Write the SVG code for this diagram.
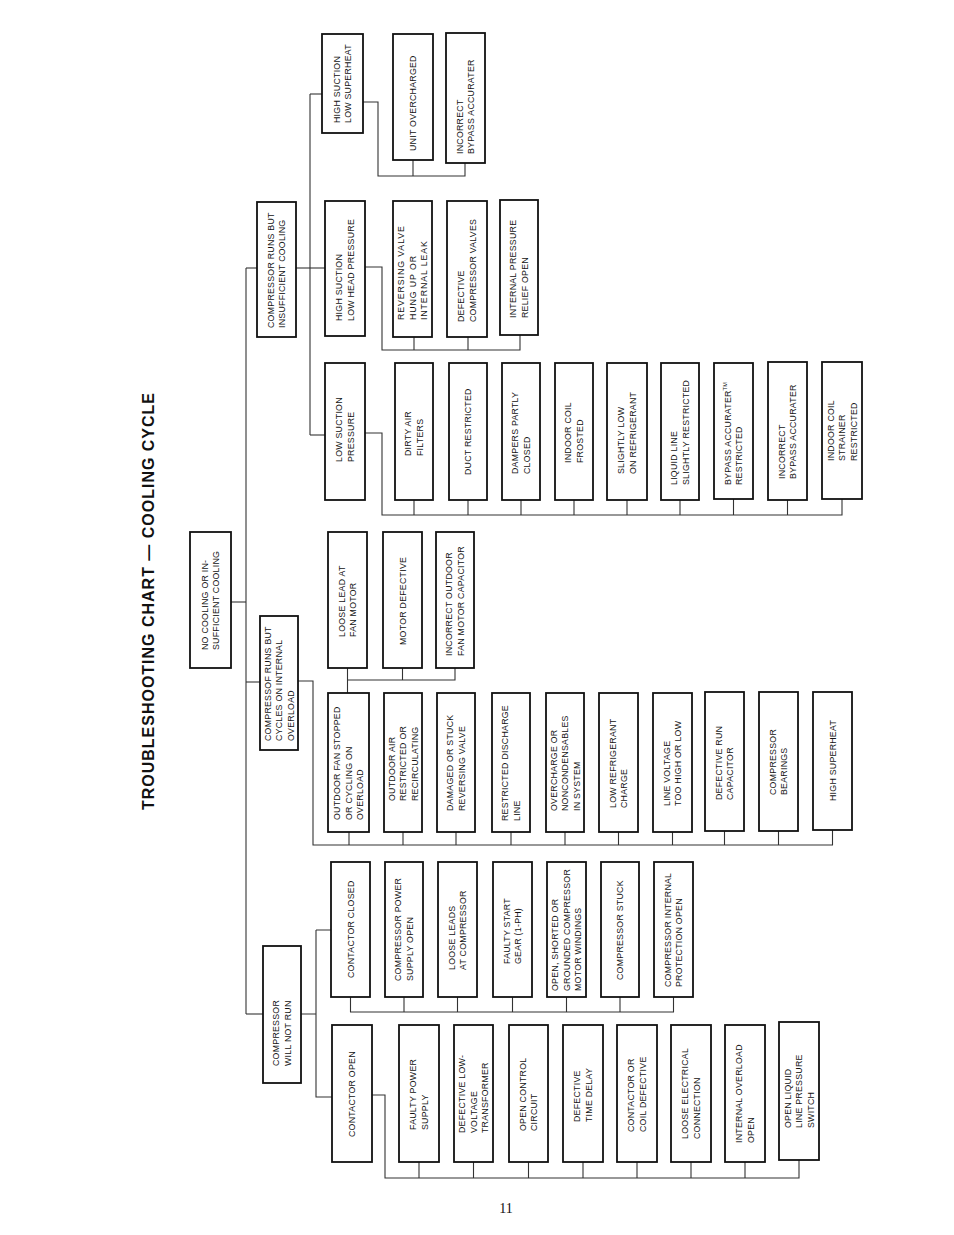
<svg xmlns="http://www.w3.org/2000/svg" width="954" height="1235" viewBox="0 0 954 1235">
<style>
.b{fill:#fff;stroke:#111;stroke-width:1.8}
.t{font-family:"Liberation Sans",Arial,sans-serif;font-size:8.8px;letter-spacing:0.25px;fill:#111}
.c{fill:none;stroke:#333;stroke-width:1.1}
.title{font-family:"Liberation Sans",Arial,sans-serif;font-size:16px;font-weight:bold;fill:#111}
.pg{font-family:"Liberation Serif","Times New Roman",serif;font-size:14px;fill:#111}
</style>
<rect x="0" y="0" width="954" height="1235" fill="#fff"/>
<text class="title" transform="translate(153.5,810) rotate(-90)" textLength="417" lengthAdjust="spacing">TROUBLESHOOTING CHART — COOLING CYCLE</text>
<text class="pg" x="506" y="1213" text-anchor="middle">11</text>

<g id="connectors">
<path class="c" d="M246,268 V1014"/>
<path class="c" d="M246,268 H257"/>
<path class="c" d="M231,602 H246"/>
<path class="c" d="M246,682 H260"/>
<path class="c" d="M246,1014 H263"/>
<path class="c" d="M296,268 H325"/>
<path class="c" d="M310,94 V435"/>
<path class="c" d="M310,94 H322"/>
<path class="c" d="M310,435 H325"/>
<path class="c" d="M363,102 H378 V176 H465 V163 M413,160 V176"/>
<path class="c" d="M365,267 H382 V350 H520 V335 M414,337 V350 M468,337 V350"/>
<path class="c" d="M365,433 H382 V515 H842 V499 M414,500 V515 M468,500 V515 M521,500 V515 M574,500 V515 M627,500 V515 M680,500 V515 M733.5,499 V515 M787.5,500 V515"/>
<path class="c" d="M298,681 H313 V845 H832.5 V830 M349,832 V845 M403,832 V845 M456,832 V845 M511,832 V845 M565,832 V845 M618.5,832 V845 M672.5,832 V845 M724.5,831 V845 M778.5,831 V845"/>
<path class="c" d="M347.5,668 V693 M347.5,680 H455 V668 M402.5,668 V680"/>
<path class="c" d="M301,1014 H316 M316,930 V1097 H332 M316,930 H331"/>
<path class="c" d="M350.5,997 V1012 H673.5 V997 M404,997 V1012 M457.5,997 V1012 M512.5,997 V1012 M566.5,997 V1012 M620,997 V1012"/>
<path class="c" d="M372,1095 H385 V1178 H799 V1160 M419,1162 V1178 M473.5,1162 V1178 M528.5,1162 V1178 M583,1162 V1178 M637,1162 V1178 M691,1162 V1178 M745,1162 V1178"/>
</g>

<g id="n-no-cooling"><rect class="b" x="190" y="532" width="41" height="136"/>
<text class="t" transform="translate(210.5,650) rotate(-90)"><tspan x="0" y="-2.7">NO COOLING OR IN-</tspan><tspan x="0" y="8.9">SUFFICIENT COOLING</tspan></text></g>

<g id="n-runs-insufficient"><rect class="b" x="257" y="202" width="39" height="135"/>
<text class="t" transform="translate(276.5,328) rotate(-90)"><tspan x="0" y="-2.7">COMPRESSOR RUNS BUT</tspan><tspan x="0" y="8.9">INSUFFICIENT COOLING</tspan></text></g>

<g id="n-cycles"><rect class="b" x="260" y="616" width="38" height="134"/>
<text class="t" transform="translate(279,741) rotate(-90)"><tspan x="0" y="-8.5">COMPRESSOF RUNS BUT</tspan><tspan x="0" y="3.1">CYCLES ON INTERNAL</tspan><tspan x="0" y="14.7">OVERLOAD</tspan></text></g>

<g id="n-will-not-run"><rect class="b" x="263" y="946" width="38" height="137"/>
<text class="t" transform="translate(282,1066) rotate(-90)"><tspan x="0" y="-2.7">COMPRESSOR</tspan><tspan x="0" y="8.9">WILL NOT RUN</tspan></text></g>

<g id="n-hs-low-superheat"><rect class="b" x="322" y="34" width="41" height="99"/>
<text class="t" transform="translate(342.5,123) rotate(-90)"><tspan x="0" y="-2.7">HIGH SUCTION</tspan><tspan x="0" y="8.9">LOW SUPERHEAT</tspan></text></g>

<g id="n-unit-overcharged"><rect class="b" x="393" y="34" width="40" height="126"/>
<text class="t" transform="translate(413,151) rotate(-90)"><tspan x="0" y="3.1">UNIT OVERCHARGED</tspan></text></g>

<g id="n-incorrect-bypass-1"><rect class="b" x="446" y="33" width="39" height="130"/>
<text class="t" transform="translate(465.5,154) rotate(-90)"><tspan x="0" y="-2.7">INCORRECT</tspan><tspan x="0" y="8.9">BYPASS ACCURATER</tspan></text></g>

<g id="n-hs-low-head"><rect class="b" x="325" y="201" width="40" height="135"/>
<text class="t" transform="translate(345,321) rotate(-90)"><tspan x="0" y="-2.7">HIGH SUCTION</tspan><tspan x="0" y="8.9">LOW HEAD PRESSURE</tspan></text></g>

<g id="n-reversing-valve"><rect class="b" x="393" y="201" width="39" height="136"/>
<text class="t" style="letter-spacing:0.9px" transform="translate(412.5,320) rotate(-90)"><tspan x="0" y="-8.5">REVERSING VALVE</tspan><tspan x="0" y="3.1">HUNG UP OR</tspan><tspan x="0" y="14.7">INTERNAL LEAK</tspan></text></g>

<g id="n-def-comp-valves"><rect class="b" x="447" y="201" width="40" height="136"/>
<text class="t" transform="translate(467,322) rotate(-90)"><tspan x="0" y="-2.7">DEFECTIVE</tspan><tspan x="0" y="8.9">COMPRESSOR VALVES</tspan></text></g>

<g id="n-int-pressure-relief"><rect class="b" x="500" y="200" width="38" height="135"/>
<text class="t" transform="translate(519,318) rotate(-90)"><tspan x="0" y="-2.7">INTERNAL PRESSURE</tspan><tspan x="0" y="8.9">RELIEF OPEN</tspan></text></g>

<g id="n-low-suction"><rect class="b" x="325" y="363" width="40" height="137"/>
<text class="t" transform="translate(345,462) rotate(-90)"><tspan x="0" y="-2.7">LOW SUCTION</tspan><tspan x="0" y="8.9">PRESSURE</tspan></text></g>

<g id="n-dirty-filters"><rect class="b" x="395" y="363" width="38" height="137"/>
<text class="t" transform="translate(414,456) rotate(-90)"><tspan x="0" y="-2.7">DIRTY AIR</tspan><tspan x="0" y="8.9">FILTERS</tspan></text></g>

<g id="n-duct-restricted"><rect class="b" x="449" y="363" width="38" height="137"/>
<text class="t" transform="translate(468,475) rotate(-90)"><tspan x="0" y="3.1">DUCT RESTRICTED</tspan></text></g>

<g id="n-dampers"><rect class="b" x="502" y="363" width="38" height="137"/>
<text class="t" transform="translate(521,474) rotate(-90)"><tspan x="0" y="-2.7">DAMPERS PARTLY</tspan><tspan x="0" y="8.9">CLOSED</tspan></text></g>

<g id="n-coil-frosted"><rect class="b" x="555" y="363" width="38" height="137"/>
<text class="t" transform="translate(574,463) rotate(-90)"><tspan x="0" y="-2.7">INDOOR COIL</tspan><tspan x="0" y="8.9">FROSTED</tspan></text></g>

<g id="n-slightly-low"><rect class="b" x="607" y="363" width="40" height="137"/>
<text class="t" transform="translate(627,474) rotate(-90)"><tspan x="0" y="-2.7">SLIGHTLY LOW</tspan><tspan x="0" y="8.9">ON REFRIGERANT</tspan></text></g>

<g id="n-liquid-line"><rect class="b" x="661" y="363" width="38" height="137"/>
<text class="t" transform="translate(680,485) rotate(-90)"><tspan x="0" y="-2.7">LIQUID LINE</tspan><tspan x="0" y="8.9">SLIGHTLY RESTRICTED</tspan></text></g>

<g id="n-bypass-restricted"><rect class="b" x="714" y="363" width="39" height="136"/>
<text class="t" transform="translate(733.5,485) rotate(-90)"><tspan x="0" y="-2.7">BYPASS ACCURATER</tspan><tspan font-size="5.5" dy="-3.5">TM</tspan><tspan x="0" y="8.9">RESTRICTED</tspan></text></g>

<g id="n-incorrect-bypass-2"><rect class="b" x="768" y="362" width="39" height="138"/>
<text class="t" transform="translate(787.5,479) rotate(-90)"><tspan x="0" y="-2.7">INCORRECT</tspan><tspan x="0" y="8.9">BYPASS ACCURATER</tspan></text></g>

<g id="n-coil-strainer"><rect class="b" x="822" y="362" width="40" height="137"/>
<text class="t" transform="translate(842,461) rotate(-90)"><tspan x="0" y="-8.5">INDOOR COIL</tspan><tspan x="0" y="3.1">STRAINER</tspan><tspan x="0" y="14.7">RESTRICTED</tspan></text></g>

<g id="n-loose-lead-fan"><rect class="b" x="328" y="532" width="39" height="136"/>
<text class="t" transform="translate(347.5,637) rotate(-90)"><tspan x="0" y="-2.7">LOOSE LEAD AT</tspan><tspan x="0" y="8.9">FAN MOTOR</tspan></text></g>

<g id="n-motor-defective"><rect class="b" x="383" y="532" width="39" height="136"/>
<text class="t" transform="translate(402.5,645) rotate(-90)"><tspan x="0" y="3.1">MOTOR DEFECTIVE</tspan></text></g>

<g id="n-fan-capacitor"><rect class="b" x="436" y="532" width="38" height="136"/>
<text class="t" transform="translate(455,656) rotate(-90)"><tspan x="0" y="-2.7">INCORRECT OUTDOOR</tspan><tspan x="0" y="8.9">FAN MOTOR CAPACITOR</tspan></text></g>

<g id="n-fan-stopped"><rect class="b" x="328" y="693" width="41" height="139"/>
<text class="t" transform="translate(348.5,820) rotate(-90)"><tspan x="0" y="-8.5">OUTDOOR FAN STOPPED</tspan><tspan x="0" y="3.1">OR CYCLING ON</tspan><tspan x="0" y="14.7">OVERLOAD</tspan></text></g>

<g id="n-outdoor-air"><rect class="b" x="384" y="693" width="38" height="139"/>
<text class="t" transform="translate(403,801) rotate(-90)"><tspan x="0" y="-8.5">OUTDOOR AIR</tspan><tspan x="0" y="3.1">RESTRICTED OR</tspan><tspan x="0" y="14.7">RECIRCULATING</tspan></text></g>

<g id="n-damaged-valve"><rect class="b" x="437" y="693" width="38" height="139"/>
<text class="t" transform="translate(456,811) rotate(-90)"><tspan x="0" y="-2.7">DAMAGED OR STUCK</tspan><tspan x="0" y="8.9">REVERSING VALVE</tspan></text></g>

<g id="n-discharge-line"><rect class="b" x="492" y="693" width="38" height="139"/>
<text class="t" transform="translate(511,821) rotate(-90)"><tspan x="0" y="-2.7">RESTRICTED DISCHARGE</tspan><tspan x="0" y="8.9">LINE</tspan></text></g>

<g id="n-overcharge"><rect class="b" x="546" y="693" width="38" height="139"/>
<text class="t" transform="translate(565,811) rotate(-90)"><tspan x="0" y="-8.5">OVERCHARGE OR</tspan><tspan x="0" y="3.1">NONCONDENSABLES</tspan><tspan x="0" y="14.7">IN SYSTEM</tspan></text></g>

<g id="n-low-charge"><rect class="b" x="599" y="693" width="39" height="139"/>
<text class="t" transform="translate(618.5,808) rotate(-90)"><tspan x="0" y="-2.7">LOW REFRIGERANT</tspan><tspan x="0" y="8.9">CHARGE</tspan></text></g>

<g id="n-line-voltage"><rect class="b" x="653" y="693" width="39" height="139"/>
<text class="t" transform="translate(672.5,806) rotate(-90)"><tspan x="0" y="-2.7">LINE VOLTAGE</tspan><tspan x="0" y="8.9">TOO HIGH OR LOW</tspan></text></g>

<g id="n-run-capacitor"><rect class="b" x="705" y="692" width="39" height="139"/>
<text class="t" transform="translate(724.5,800) rotate(-90)"><tspan x="0" y="-2.7">DEFECTIVE RUN</tspan><tspan x="0" y="8.9">CAPACITOR</tspan></text></g>

<g id="n-bearings"><rect class="b" x="759" y="692" width="39" height="139"/>
<text class="t" transform="translate(778.5,795) rotate(-90)"><tspan x="0" y="-2.7">COMPRESSOR</tspan><tspan x="0" y="8.9">BEARINGS</tspan></text></g>

<g id="n-high-superheat"><rect class="b" x="813" y="692" width="39" height="138"/>
<text class="t" transform="translate(832.5,801) rotate(-90)"><tspan x="0" y="3.1">HIGH SUPERHEAT</tspan></text></g>

<g id="n-contactor-closed"><rect class="b" x="331" y="862" width="39" height="135"/>
<text class="t" transform="translate(350.5,978) rotate(-90)"><tspan x="0" y="3.1">CONTACTOR CLOSED</tspan></text></g>

<g id="n-power-supply-open"><rect class="b" x="385" y="862" width="38" height="135"/>
<text class="t" transform="translate(404,981) rotate(-90)"><tspan x="0" y="-2.7">COMPRESSOR POWER</tspan><tspan x="0" y="8.9">SUPPLY OPEN</tspan></text></g>

<g id="n-loose-leads"><rect class="b" x="438" y="862" width="39" height="135"/>
<text class="t" transform="translate(457.5,970) rotate(-90)"><tspan x="0" y="-2.7">LOOSE LEADS</tspan><tspan x="0" y="8.9">AT COMPRESSOR</tspan></text></g>

<g id="n-start-gear"><rect class="b" x="493" y="862" width="39" height="135"/>
<text class="t" transform="translate(512.5,964) rotate(-90)"><tspan x="0" y="-2.7">FAULTY START</tspan><tspan x="0" y="8.9">GEAR (1-PH)</tspan></text></g>

<g id="n-windings"><rect class="b" x="547" y="862" width="39" height="135"/>
<text class="t" transform="translate(566.5,991) rotate(-90)"><tspan x="0" y="-8.5">OPEN, SHORTED OR</tspan><tspan x="0" y="3.1">GROUNDED COMPRESSOR</tspan><tspan x="0" y="14.7">MOTOR WINDINGS</tspan></text></g>

<g id="n-comp-stuck"><rect class="b" x="601" y="862" width="38" height="135"/>
<text class="t" transform="translate(620,980) rotate(-90)"><tspan x="0" y="3.1">COMPRESSOR STUCK</tspan></text></g>

<g id="n-int-protection"><rect class="b" x="654" y="862" width="39" height="135"/>
<text class="t" transform="translate(673.5,987) rotate(-90)"><tspan x="0" y="-2.7">COMPRESSOR INTERNAL</tspan><tspan x="0" y="8.9">PROTECTION OPEN</tspan></text></g>

<g id="n-contactor-open"><rect class="b" x="332" y="1025" width="40" height="137"/>
<text class="t" transform="translate(352,1137) rotate(-90)"><tspan x="0" y="3.1">CONTACTOR OPEN</tspan></text></g>

<g id="n-faulty-power"><rect class="b" x="399" y="1025" width="40" height="137"/>
<text class="t" transform="translate(419,1130) rotate(-90)"><tspan x="0" y="-2.7">FAULTY POWER</tspan><tspan x="0" y="8.9">SUPPLY</tspan></text></g>

<g id="n-transformer"><rect class="b" x="454" y="1025" width="39" height="137"/>
<text class="t" transform="translate(473.5,1133) rotate(-90)"><tspan x="0" y="-8.5">DEFECTIVE LOW-</tspan><tspan x="0" y="3.1">VOLTAGE</tspan><tspan x="0" y="14.7">TRANSFORMER</tspan></text></g>

<g id="n-control-circuit"><rect class="b" x="509" y="1025" width="39" height="137"/>
<text class="t" transform="translate(528.5,1131) rotate(-90)"><tspan x="0" y="-2.7">OPEN CONTROL</tspan><tspan x="0" y="8.9">CIRCUIT</tspan></text></g>

<g id="n-time-delay"><rect class="b" x="563" y="1025" width="40" height="137"/>
<text class="t" transform="translate(583,1122) rotate(-90)"><tspan x="0" y="-2.7">DEFECTIVE</tspan><tspan x="0" y="8.9">TIME DELAY</tspan></text></g>

<g id="n-coil-defective"><rect class="b" x="617" y="1025" width="40" height="137"/>
<text class="t" transform="translate(637,1132) rotate(-90)"><tspan x="0" y="-2.7">CONTACTOR OR</tspan><tspan x="0" y="8.9">COIL DEFECTIVE</tspan></text></g>

<g id="n-loose-connection"><rect class="b" x="671" y="1025" width="40" height="137"/>
<text class="t" transform="translate(691,1139) rotate(-90)"><tspan x="0" y="-2.7">LOOSE ELECTRICAL</tspan><tspan x="0" y="8.9">CONNECTION</tspan></text></g>

<g id="n-int-overload"><rect class="b" x="725" y="1025" width="40" height="137"/>
<text class="t" transform="translate(745,1143) rotate(-90)"><tspan x="0" y="-2.7">INTERNAL OVERLOAD</tspan><tspan x="0" y="8.9">OPEN</tspan></text></g>

<g id="n-pressure-switch"><rect class="b" x="779" y="1022" width="40" height="138"/>
<text class="t" transform="translate(799,1128) rotate(-90)"><tspan x="0" y="-8.5">OPEN LIQUID</tspan><tspan x="0" y="3.1">LINE PRESSURE</tspan><tspan x="0" y="14.7">SWITCH</tspan></text></g>
</svg>
